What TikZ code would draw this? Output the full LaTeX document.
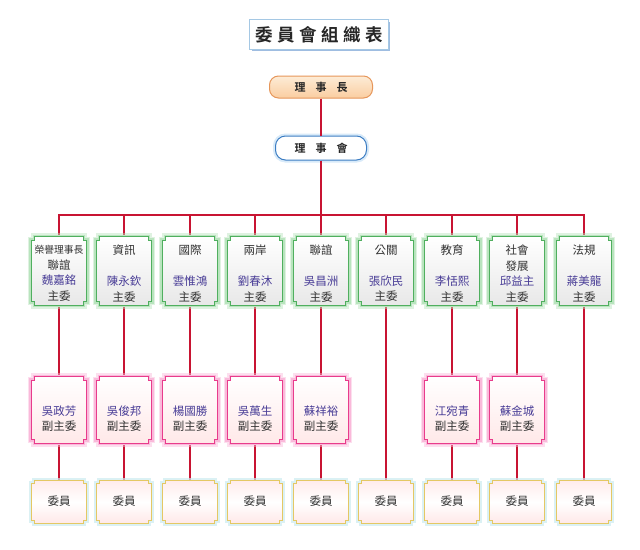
\documentclass[tikz,border=0pt]{standalone}
\usepackage{fontspec}
\setmainfont{Noto Sans CJK TC}[BoldFont={Noto Sans CJK TC Bold}]
\usetikzlibrary{calc}
\definecolor{linered}{RGB}{200,20,50}
\definecolor{gborder}{RGB}{80,175,95}
\definecolor{gglow}{RGB}{185,228,190}
\definecolor{pborder}{RGB}{232,60,140}
\definecolor{pglow}{RGB}{250,185,218}
\definecolor{yborder}{RGB}{228,200,100}
\definecolor{yglow}{RGB}{205,236,240}
\definecolor{namecol}{RGB}{72,60,150}
\definecolor{txtcol}{RGB}{50,50,50}
\definecolor{tborder}{RGB}{165,200,228}
\definecolor{tshadow}{RGB}{95,145,205}
\definecolor{oborder}{RGB}{230,150,90}
\definecolor{otop}{RGB}{253,236,215}
\definecolor{obot}{RGB}{250,205,160}
\definecolor{bborder}{RGB}{60,125,195}
\definecolor{bglow}{RGB}{190,220,245}
\newcommand\nm[1]{\textcolor{namecol}{#1}}
\newcommand\notchpath[2]{($(#1.north west)+(#2,0)$) -- ($(#1.north east)+(-#2,0)$) -- ++(0,#2) -- ++(#2,0) -- ($(#1.south east)+(0,-#2)$) -- ++(-#2,0) -- ++(0,#2) -- ($(#1.south west)+(#2,0)$) -- ++(0,-#2) -- ++(-#2,0) -- ($(#1.north west)+(0,#2)$) -- ++(#2,0) -- cycle}
\begin{document}
\begin{tikzpicture}[x=1pt,y=-1pt,
  conn/.style={draw=linered,line width=1.2pt},
  boxg/.style={rectangle,minimum width=55pt,minimum height=68pt,inner sep=0pt},
  boxp/.style={rectangle,minimum width=55pt,minimum height=66pt,inner sep=0pt},
  boxy/.style={rectangle,minimum width=54pt,minimum height=42pt,inner sep=0pt},
  txt/.style={align=center,inner sep=0pt,text=txtcol,font=\fontsize{11.5}{15.5}\selectfont}]
\useasboundingbox[fill=white] (0,0) rectangle (640,549);

% title
\node[rectangle,minimum width=138pt,minimum height=29pt,inner sep=0pt] (title) at (319,34.5) {};
\fill[tshadow!60] ($(title.north west)+(2,2)$) rectangle ($(title.south east)+(2,2)$);
\draw[tborder,fill=white,line width=1pt] (title.north west) rectangle (title.south east);
\node[inner sep=0pt,font=\fontsize{17.5}{20}\selectfont\bfseries,text=black!85] (titlet) at (title) {委\hspace{4.5pt}員\hspace{4.5pt}會\hspace{4.5pt}組\hspace{4.5pt}織\hspace{4.5pt}表};

% chair
\node[rectangle,rounded corners=9pt,minimum width=103pt,minimum height=22pt,inner sep=0pt,
  draw=oborder,line width=1pt,top color=otop,bottom color=obot,
  font=\fontsize{11}{13}\selectfont\bfseries,text=black!85] (chair) at (321,87) {理\hspace{10pt}事\hspace{10pt}長};
% board
\draw[bglow,line width=5pt,rounded corners=10pt,opacity=0.6] (275.5,136) rectangle (366.5,160);
\node[rectangle,rounded corners=10pt,minimum width=91pt,minimum height=24pt,inner sep=0pt,
  draw=bborder,line width=1pt,fill=white,
  font=\fontsize{11}{13}\selectfont\bfseries,text=black!85] (board) at (321,148) {理\hspace{10pt}事\hspace{10pt}會};

% boxes
\foreach \i/\x in {1/59,2/124,3/190,4/255,5/321,6/386,7/452,8/517,9/584}{
  \node[boxg] (g\i) at (\x,271) {};
  \node[boxy] (y\i) at (\x,502) {};
}
\foreach \i/\x in {1/59,2/124,3/190,4/255,5/321,7/452,8/517}{
  \node[boxp] (p\i) at (\x,410) {};
}

% connectors
\coordinate (bus) at (0,215);
\draw[conn] (chair.south) -- (board.north);
\draw[conn] (board.south) -- (board.south |- bus);
\draw[conn,line cap=rect] (g1.north |- bus) -- (g9.north |- bus);
\foreach \i in {1,...,9}{\draw[conn] (g\i.north |- bus) -- (g\i.north);}
\foreach \i in {1,2,3,4,5,7,8}{
  \draw[conn] (g\i.south) -- (p\i.north);
  \draw[conn] (p\i.south) -- (y\i.north);
}
\foreach \i in {6,9}{\draw[conn] (g\i.south) -- (y\i.north);}

% box outlines
\foreach \i in {1,...,9}{
  \draw[gglow,line width=7pt,opacity=0.45] \notchpath{g\i}{3.5};
  \draw[gglow,line width=4pt] \notchpath{g\i}{3.5};
  \draw[gborder,line width=1.1pt,top color=white,bottom color=black!9] \notchpath{g\i}{3.5};
  \draw[yglow,line width=5pt,opacity=0.7] \notchpath{y\i}{3};
  \draw[yborder,line width=1pt,top color=pink!30,bottom color=pink!35,middle color=white] \notchpath{y\i}{3};
  \node[txt] (yt\i) at ($(y\i)+(0,-0.5)$) {委員};
}
\foreach \i in {1,2,3,4,5,7,8}{
  \draw[pglow,line width=7pt,opacity=0.45] \notchpath{p\i}{3.5};
  \draw[pglow,line width=4pt] \notchpath{p\i}{3.5};
  \draw[pborder,line width=1.1pt,top color=white,bottom color=pink!35] \notchpath{p\i}{3.5};
}

% green texts
\node[txt] (gt1) at ($(g1)+(0,2.5)$) {{\fontsize{9.8}{15.5}\selectfont 榮譽理事長}\\聯誼\\\nm{魏嘉銘}\\主委};
\node[txt] (gt2) at ($(g2)+(0,2.5)$) {資訊\\\mbox{}\\\nm{陳永欽}\\主委};
\node[txt] (gt3) at ($(g3)+(0,2.5)$) {國際\\\mbox{}\\\nm{雲惟鴻}\\主委};
\node[txt] (gt4) at ($(g4)+(0,2.5)$) {兩岸\\\mbox{}\\\nm{劉春沐}\\主委};
\node[txt] (gt5) at ($(g5)+(0,2.5)$) {聯誼\\\mbox{}\\\nm{吳昌洲}\\主委};
\node[txt] (gt6) at ($(g6)+(0,2.5)$) {公關\\\mbox{}\\\nm{張欣民}\\主委};
\node[txt] (gt7) at ($(g7)+(0,2.5)$) {教育\\\mbox{}\\\nm{李恬熙}\\主委};
\node[txt] (gt8) at ($(g8)+(0,2.5)$) {社會\\發展\\\nm{邱益主}\\主委};
\node[txt] (gt9) at ($(g9)+(0,2.5)$) {法規\\\mbox{}\\\nm{蔣美龍}\\主委};

% pink texts
\node[txt] (pt1) at ($(p1)+(0,8.5)$) {\nm{吳政芳}\\副主委};
\node[txt] (pt2) at ($(p2)+(0,8.5)$) {\nm{吳俊邦}\\副主委};
\node[txt] (pt3) at ($(p3)+(0,8.5)$) {\nm{楊國勝}\\副主委};
\node[txt] (pt4) at ($(p4)+(0,8.5)$) {\nm{吳萬生}\\副主委};
\node[txt] (pt5) at ($(p5)+(0,8.5)$) {\nm{蘇祥裕}\\副主委};
\node[txt] (pt7) at ($(p7)+(0,8.5)$) {\nm{江宛青}\\副主委};
\node[txt] (pt8) at ($(p8)+(0,8.5)$) {\nm{蘇金城}\\副主委};
\end{tikzpicture}
\end{document}
